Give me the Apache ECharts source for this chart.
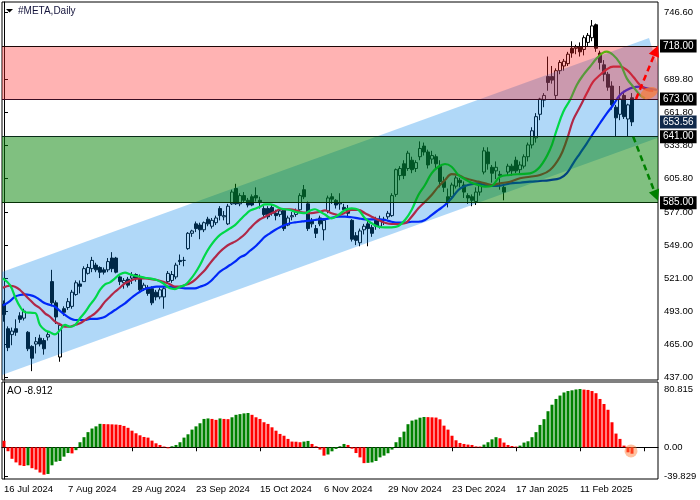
<!DOCTYPE html>
<html>
<head>
<meta charset="utf-8">
<script src="https://cdn.jsdelivr.net/npm/echarts/dist/echarts.min.js"></script>
<style>html,body{margin:0;padding:0;background:#fff;}#c{width:700px;height:500px;}</style>
</head>
<body>
<div id="c"></div>
<script>
// ---------- data ----------
const chartTitle = '#META,Daily';
const aoTitle = 'AO -8.912';

const tradingDays = [
  ['Jul 2024', [16,17,18,19,22,23,24,25,26,29,30,31]],
  ['Aug 2024', [1,2,5,6,7,8,9,12,13,14,15,16,19,20,21,22,23,26,27,28,29,30]],
  ['Sep 2024', [3,4,5,6,9,10,11,12,13,16,17,18,19,20,23,24,25,26,27,30]],
  ['Oct 2024', [1,2,3,4,7,8,9,10,11,14,15,16,17,18,21,22,23,24,25,28,29,30,31]],
  ['Nov 2024', [1,4,5,6,7,8,11,12,13,14,15,18,19,20,21,22,25,26,27,29]],
  ['Dec 2024', [2,3,4,5,6,9,10,11,12,13,16,17,18,19,20,23,24,26,27,30,31]],
  ['Jan 2025', [2,3,6,7,8,10,13,14,15,16,17,21,22,23,24,27,28,29,30,31]],
  ['Feb 2025', [3,4,5,6,7,10,11,12,13,14,18,19,20,21,24,25,26,27,28]],
  ['Mar 2025', [3]]
];
const futureSlots = ['', '', '', '', '', ''];

// [open, close, low, high]
const candles = [
[499,490,484,502],[478,462,459,480],[473,476,464,479],[478,475,472,486],[489,486,483,492],
[487,493,485,495],[475,461,459,476],[463,453,442,464],[465,467,457,471],[470,465,463,473],
[468,461,456,470],[471,473,468,476],[518,500,497,528],[500,488,482,502],[454,481,450,483],
[495,492,489,497],[496,501,494,504],[497,509,495,511],[507,517,506,519],[516,514,508,519],
[518,529,518,531],[525,530,524,533],[529,536,526,539],[532,528,526,534],[530,526,521,531],
[528,526,524,530],[528,535,526,538],[538,529,526,543],[538,526,525,539],[522,518,515,524],
[517,519,512,521],[520,515,513,522],[521,523,516,526],[524,521,518,525],[521,511,509,524],
[512,515,510,517],[513,508,506,515],[512,500,498,514],[509,505,502,511],[505,511,503,513],
[505,512,495,514],[518,525,516,527],[519,524,517,527],[522,532,520,534],[536,535,532,541],
[536,536,531,539],[546,559,545,560],[559,561,556,562],[567,563,560,569],[566,562,554,568],
[562,568,560,569],[571,567,565,573],[565,570,563,572],[568,572,566,574],[580,574,570,582],
[573,574,570,578],[567,582,566,584],[584,594,583,596],[597,584,583,601],[584,591,582,593],
[591,587,585,594],[587,583,581,589],[590,583,582,592],[591,589,586,598],[587,585,580,590],
[580,575,573,582],[580,573,571,582],[581,576,574,583],[576,574,570,579],[575,578,573,580],
[579,563,561,580],[566,572,565,574],[573,574,570,577],[575,578,573,580],[579,591,578,593],
[596,590,588,600],[584,563,561,586],[570,567,564,572],[563,559,555,566],[572,567,565,574],
[562,570,553,572],[578,589,576,591],[590,588,584,593],[587,583,580,588],[584,585,579,593],
[581,579,577,584],[580,576,573,583],[570,554,552,571],[557,553,549,560],[551,561,548,563],
[562,565,558,567],[567,563,548,570],[564,559,556,566],[570,565,562,573],[565,571,563,574],
[571,570,566,573],[573,576,571,578],[574,591,573,593],[592,613,590,614],[608,614,604,616],
[618,608,605,621],[614,627,612,629],[621,613,610,624],[614,619,611,621],[624,631,621,637],
[633,628,625,636],[628,617,614,630],[622,625,618,629],[624,618,614,626],[616,603,598,621],
[603,598,594,607],[590,585,581,597],[590,600,588,602],[599,606,597,608],[604,602,598,606],
[600,594,589,603],[591,589,584,593],[590,587,582,592],[586,594,583,598],[594,600,591,603],
[611,629,609,632],[628,618,613,632],[615,610,602,617],[612,615,605,620],[608,609,596,612],
[598,594,587,601],[611,616,608,618],[616,612,608,618],[621,612,610,624],[613,617,610,620],
[616,624,614,626],[624,634,620,636],[634,646,631,649],[640,658,636,661],[660,673,655,674],
[672,676,666,678],[692,687,680,709],[692,689,686,701],[676,697,673,699],[697,704,694,706],
[701,705,697,707],[703,711,701,713],[716,712,708,722],[716,717,711,719],[717,713,709,721],
[715,725,710,727],[721,727,718,729],[725,735,722,740],[736,716,713,737],[712,704,698,714],
[702,694,688,706],[694,683,680,696],[684,668,664,688],[666,657,641,668],[660,673,655,684],
[676,658,656,680],[656,668,641,669],[674,653.56,650,678]
];

const aoValues = [
9,-5.5,-16,-21,-25,-26,-25,-29,-31,-35,
-38,-37,-25,-20,-19,-13,-8,-8.5,-4,7,
14,21,26,29,32.5,32.2,32,31.8,31.5,31,
29.6,27,23,19.4,16.6,14.3,13.4,9.2,5.5,3.2,
1,-1.4,1.4,3.2,7,13.4,18,24.5,29,33.3,
39.3,40,39.3,38,40,39.3,39,41.6,45,46,
47,47.5,45,41.6,39.3,34.7,32.4,27.7,23,18.5,
16,11.6,7.9,7.7,7,7.9,8.8,4.6,1.4,-3.2,
-11.6,-10,-5.6,-2.3,1.4,4.6,3.2,-2,-8,-14,
-22,-21.6,-21,-19,-14,-11.6,-8.3,-3.2,7,14,
21.7,32,37,38.4,41,42,41.8,41.5,41.2,38.8,
30,24.5,16,9.7,6,4.6,3.7,3.2,1.2,1.0,
3.7,7,11,14,12.5,6.5,3.2,1.8,1.0,2.3,
6.5,8.3,14,21,31,39,50,59,67,71.7,
76,78,79,80.2,80.815,80,79.5,78,75,67,
60,52,34.7,19,11.6,2.3,-7,-8.912
];

// Alligator lines: [bar position, price]
const lipsLine = [[-0.3,520.8],[1.5,515.1],[2.75,505.2],[4,496.7],[5.25,492.0],[6.5,491.6],[7.75,491.4],[9,481.2],[10.25,476.9],[11.5,475.0],[12.75,473.3],[14,476.9],[15.25,481.2],[16.5,479.7],[17.75,481.2],[19,486.9],[20.25,492.0],[21.5,498.2],[22.75,503.8],[24,510.9],[25.25,515.7],[26.5,517.4],[27.75,520.8],[29,524.2],[30.25,525.6],[31.5,524.2],[32.75,523.0],[34,522.2],[35.25,521.3],[36.5,520.8],[38.2,519.4],[39.8,516.6],[41.5,512.3],[42.75,511.7],[44,513.7],[45.25,515.1],[46.5,519.4],[47.75,525.1],[49,532.1],[50.25,540.6],[51.5,547.6],[52.75,553.3],[54,557.6],[55.25,560.4],[56.5,563.2],[57.75,566.0],[59,570.3],[60.25,574.5],[61.5,578.2],[62.75,579.9],[64,581.6],[65.25,583.6],[66.5,583.6],[67.75,582.4],[69,580.2],[70.25,579.4],[71.5,578.8],[72.75,577.3],[74,576.5],[75.25,576.0],[76.5,578.2],[77.75,579.4],[79,577.3],[80.25,574.9],[81.9,571.7],[83.6,574.5],[85.25,578.8],[86.9,580.2],[88.6,578.8],[90.25,571.7],[91.9,567.5],[93.6,564.6],[95.25,564.1],[96.9,564.1],[98.6,565.2],[100.25,570.3],[101.9,578.8],[103.6,591.5],[105.25,600.0],[106.9,609.9],[108.6,615.5],[110.25,617.8],[111.9,615.5],[113.6,608.5],[115.25,604.8],[116.9,601.9],[118.6,600.0],[120.25,598.6],[121.9,599.1],[124,607.0],[126.5,608.5],[129,609.3],[131.5,609.9],[134,615.5],[136.5,630.0],[138.2,647.0],[139.8,662.0],[141.5,672.1],[143.2,684.9],[144.8,693.3],[146.5,700.4],[148.2,707.5],[149.8,712.3],[150.7,713.1],[152.3,710.3],[154,703.3],[155.7,690.5],[157.3,683.4],[159,676.4],[160.25,673.6]];

const teethLine = [[-0.3,512.8],[1.5,514.5],[2.75,513.7],[4,510.9],[5.25,506.6],[6.5,502.4],[7.75,498.2],[9,495.4],[10.25,491.1],[11.5,488.2],[12.75,484.0],[14,481.8],[15.25,479.7],[16.5,479.7],[17.75,481.2],[19,482.6],[20.25,485.4],[21.5,488.2],[22.75,491.1],[24,495.4],[25.25,501.0],[26.5,505.2],[27.75,509.4],[29,512.8],[30.25,516.6],[31.5,518.5],[32.75,520.2],[34,520.8],[35.25,520.8],[36.5,520.2],[38.2,519.4],[39.8,517.9],[41.5,515.7],[42.75,513.7],[44,513.7],[45.25,515.1],[46.5,516.6],[47.75,519.4],[49,523.6],[50.25,527.9],[51.5,533.5],[52.75,538.6],[54,543.4],[55.25,547.1],[56.5,549.9],[57.75,551.9],[59,554.8],[60.25,558.4],[61.5,563.2],[62.75,567.5],[64,570.9],[65.25,573.1],[66.5,575.4],[67.75,577.3],[69,579.4],[70.25,579.4],[71.5,579.4],[72.75,578.8],[74,577.3],[75.25,576.5],[76.5,576.0],[77.75,576.5],[79,577.3],[80.25,578.5],[81.9,576.0],[83.6,574.5],[85.25,576.5],[86.9,578.8],[88.6,578.8],[90.25,576.0],[91.9,573.1],[93.6,570.3],[95.25,568.0],[96.9,566.9],[98.6,566.9],[100.25,567.5],[101.9,573.1],[103.6,580.2],[105.25,585.8],[106.9,591.5],[108.6,598.6],[110.25,604.2],[111.9,609.3],[113.6,608.5],[115.25,605.7],[116.9,604.2],[118.6,602.8],[120.25,601.4],[121.9,600.0],[124,601.4],[126.5,602.8],[129,605.7],[131.5,607.0],[134,608.5],[136.5,612.7],[139,624.0],[140.7,638.2],[142.3,655.2],[144,666.4],[145.7,677.8],[147.3,687.7],[149,693.3],[150.7,698.2],[152.3,700.4],[154,700.4],[155.7,697.6],[157.3,691.9],[159,684.9],[160.7,680.6],[162.3,679.8]];

const jawLine = [[-0.3,497.6],[1.5,501.5],[2.75,505.2],[4,506.6],[5.25,507.2],[6.5,506.6],[7.75,505.2],[9,502.4],[10.25,499.6],[11.5,498.2],[12.75,496.7],[14,493.1],[15.25,489.7],[16.5,486.9],[17.75,485.4],[19,485.4],[20.25,485.4],[21.5,486.3],[22.75,486.3],[24,486.9],[25.25,488.2],[26.5,491.1],[27.75,493.9],[29,496.7],[30.25,499.6],[31.5,503.2],[32.75,506.6],[34,509.4],[35.25,511.7],[36.5,512.8],[38.2,513.7],[39.8,513.7],[41.5,513.7],[42.75,513.2],[44,512.8],[45.25,512.3],[46.5,512.3],[47.75,512.3],[49,513.7],[50.25,515.1],[51.5,517.9],[52.75,522.2],[54,526.4],[55.25,529.3],[56.5,532.1],[57.75,534.9],[59,538.6],[60.25,540.6],[61.5,544.2],[62.75,547.6],[64,551.9],[65.25,556.1],[66.5,559.0],[67.75,561.8],[69,564.1],[70.25,566.0],[71.5,567.5],[72.75,568.3],[74,568.8],[75.25,569.4],[76.5,569.7],[77.75,570.3],[79,570.9],[80.25,571.1],[81.9,572.2],[83.6,573.1],[85.25,573.1],[86.9,572.6],[88.6,571.7],[90.25,570.9],[91.9,570.9],[93.6,570.9],[95.25,570.3],[96.9,568.8],[98.6,568.0],[100.25,568.0],[101.9,568.8],[103.6,568.8],[105.25,570.3],[106.9,574.5],[108.6,578.8],[110.25,583.0],[111.9,588.7],[113.6,595.8],[115.25,599.1],[116.9,600.8],[118.6,601.4],[120.25,600.0],[121.9,599.2],[124,599.5],[126.5,601.4],[129,601.9],[131.5,602.8],[134,603.4],[136.5,604.2],[139,605.7],[140.7,609.9],[142.3,618.4],[144,626.9],[145.7,635.4],[147.3,643.9],[149,652.4],[150.7,660.8],[152.3,667.9],[154,676.4],[155.7,680.6],[157.3,682.9],[159,683.4],[160.7,682.1],[163.2,680.6]];

// channel outline [bar position, price]
const channelOutline = [[-0.5,526.2],[161.25,724.7],[163.5,700.3],[163.5,640.1],[-0.5,438.7]];
const resistanceZone = [673, 718];
const supportZone = [585, 641];
const lastPrice = 653.56;
const upArrow = [[158, 673], [163, 714]];
const downArrow = [[157.3, 641], [163, 591]];
const targetMarker = [161.25, 678];
const aoMarker = [156.75, -5.1];

const priceTicks = [437, 465, 493, 521, 549, 577, 605.8, 633.8, 661.8, 689.8, 746.6];
const aoTicks = [-39.829, 0, 80.815];

// ---------- chart ----------
const X_MIN = -0.5, X_MAX = 163.5;
const categories = tradingDays.flatMap(([m, days]) => days.map(d => d + ' ' + m)).concat(futureSlots);
const FONT = 'Liberation Sans';

const aoBars = aoValues.map((v, i) => ({
  value: v,
  itemStyle: { color: (i > 0 && v > aoValues[i - 1]) ? '#008000' : '#ff0000' }
}));

const chart = echarts.init(document.getElementById('c'), null, { renderer: 'canvas', width: 700, height: 500 });

const boxLabel = (bg) => ({
  show: true, position: 'end', distance: 2,
  formatter: p => Number(p.value).toFixed(2),
  color: '#fff', backgroundColor: bg, padding: [2, 3, 1, 3],
  fontSize: 10, fontFamily: FONT
});

chart.setOption({
  animation: false,
  backgroundColor: '#fff',
  grid: [
    { left: 2, top: 2, width: 656, height: 378, show: true, borderColor: '#000', borderWidth: 1, backgroundColor: 'transparent' },
    { left: 2, top: 382, width: 656, height: 97, show: true, borderColor: '#000', borderWidth: 1, backgroundColor: 'transparent' }
  ],
  xAxis: [
    { type: 'category', gridIndex: 0, data: categories, boundaryGap: true,
      axisLine: { show: false }, axisTick: { show: false }, axisLabel: { show: false }, splitLine: { show: false } },
    { type: 'value', gridIndex: 0, min: X_MIN, max: X_MAX, show: false },
    { type: 'category', gridIndex: 1, data: categories, boundaryGap: true,
      axisLine: { show: true, lineStyle: { color: '#000', width: 1 } },
      axisTick: { show: true, interval: 15, alignWithLabel: true, length: 4, lineStyle: { color: '#000' } },
      axisLabel: { interval: 15, align: 'left', margin: 5, color: '#000', fontSize: 9.5, fontFamily: FONT },
      splitLine: { show: false } },
    { type: 'value', gridIndex: 1, min: X_MIN, max: X_MAX, show: false }
  ],
  yAxis: [
    { type: 'value', gridIndex: 0, position: 'right', min: 434.5, max: 755.3,
      splitLine: { show: false },
      axisLine: { show: true, lineStyle: { color: '#000' } },
      axisTick: { show: true, length: 4, customValues: priceTicks, lineStyle: { color: '#000' } },
      axisLabel: { customValues: priceTicks, formatter: v => Number(v).toFixed(2), margin: 6, color: '#000', fontSize: 9.5, fontFamily: FONT } },
    { type: 'value', gridIndex: 1, position: 'right', min: -44, max: 90.52,
      splitLine: { show: false },
      axisLine: { show: true, lineStyle: { color: '#000' } },
      axisTick: { show: true, length: 4, customValues: aoTicks, lineStyle: { color: '#000' } },
      axisLabel: { customValues: aoTicks, formatter: v => (v === 0 ? '0.00' : Number(v).toFixed(3)), margin: 6, color: '#000', fontSize: 9.5, fontFamily: FONT } }
  ],
  series: [
    { type: 'candlestick', xAxisIndex: 0, yAxisIndex: 0, data: candles, barWidth: 3, z: 2, silent: true,
      itemStyle: { color: '#fff', color0: '#000', borderColor: '#000', borderColor0: '#000', borderWidth: 1 } },
    { type: 'line', name: 'jaw', xAxisIndex: 1, yAxisIndex: 0, data: jawLine, smooth: 0.4, showSymbol: false, z: 3, silent: true,
      lineStyle: { color: '#0000ff', width: 2.2 } },
    { type: 'line', name: 'teeth', xAxisIndex: 1, yAxisIndex: 0, data: teethLine, smooth: 0.4, showSymbol: false, z: 3, silent: true,
      lineStyle: { color: '#ff0000', width: 2.2 } },
    { type: 'line', name: 'lips', xAxisIndex: 1, yAxisIndex: 0, data: lipsLine, smooth: 0.4, showSymbol: false, z: 3, silent: true,
      lineStyle: { color: '#00ff00', width: 2.2 } },
    { type: 'custom', xAxisIndex: 1, yAxisIndex: 0, z: 4, silent: true, data: [[0, 0]],
      renderItem: (params, api) => {
        const pts = channelOutline.map(p => api.coord(p));
        const band = (lo, hi) => {
          const a = api.coord([X_MIN, hi]), b = api.coord([X_MAX, lo]);
          return { x: a[0], y: a[1], width: b[0] - a[0], height: b[1] - a[1] };
        };
        return { type: 'group', children: [
          { type: 'polygon', shape: { points: pts }, style: { fill: 'rgba(0,129,232,0.31)' } },
          { type: 'rect', shape: band(resistanceZone[0], resistanceZone[1]), style: { fill: 'rgba(255,38,38,0.35)' } },
          { type: 'rect', shape: band(supportZone[0], supportZone[1]), style: { fill: 'rgba(1,129,1,0.5)' } }
        ] };
      } },
    { type: 'line', xAxisIndex: 1, yAxisIndex: 0, data: [], z: 5, silent: true,
      markLine: { silent: true, symbol: 'none', animation: false,
        data: [
          { yAxis: resistanceZone[1], lineStyle: { color: '#1c0606', width: 1, type: 'solid' }, label: boxLabel('#000') },
          { yAxis: resistanceZone[0], lineStyle: { color: '#3a0c22', width: 1, type: 'solid' }, label: boxLabel('#000') },
          { yAxis: lastPrice, lineStyle: { color: 'rgba(0,0,0,0)', width: 1 }, label: boxLabel('#10294a') },
          { yAxis: supportZone[1], lineStyle: { color: '#082a18', width: 1, type: 'solid' }, label: boxLabel('#000') },
          { yAxis: supportZone[0], lineStyle: { color: '#053005', width: 1, type: 'solid' }, label: boxLabel('#000') }
        ] } },
    { type: 'line', xAxisIndex: 1, yAxisIndex: 0, data: [], z: 6, silent: true,
      markLine: { silent: true, symbol: ['none', 'triangle'], symbolSize: 11, animation: false, label: { show: false },
        data: [
          [{ coord: upArrow[0], lineStyle: { color: '#ff0000', width: 2.5, type: [6, 4] }, itemStyle: { color: '#ff0000' } },
           { coord: upArrow[1] }],
          [{ coord: downArrow[0], lineStyle: { color: '#008000', width: 2.5, type: [6, 4] }, itemStyle: { color: '#008000' } },
           { coord: downArrow[1] }]
        ] } },
    { type: 'custom', xAxisIndex: 1, yAxisIndex: 0, z: 7, silent: true, data: [targetMarker],
      renderItem: (params, api) => {
        const c = api.coord([api.value(0), api.value(1)]);
        return { type: 'ellipse', x: c[0], y: c[1], rotation: 0.4,
          shape: { cx: 0, cy: 0, rx: 9, ry: 5.5 }, style: { fill: 'rgba(245,125,60,0.75)' } };
      } },
    { type: 'bar', xAxisIndex: 2, yAxisIndex: 1, data: aoBars, barWidth: 3, silent: true, z: 2 },
    { type: 'scatter', xAxisIndex: 3, yAxisIndex: 1, data: [aoMarker], symbolSize: 13, silent: true, z: 3,
      itemStyle: { color: 'rgba(255,125,55,0.6)' } }
  ],
  graphic: [
    { type: 'polygon', z: 100, shape: { points: [[6, 9], [13, 9], [9.5, 12.5]] }, style: { fill: '#000' } },
    { type: 'text', z: 100, x: 18, y: 11, style: { text: chartTitle, font: '10px "Liberation Sans"', fill: '#14143c', verticalAlign: 'middle' } },
    { type: 'rect', z: 99, shape: { x: 5, y: 385, width: 48, height: 12 }, style: { fill: '#fff' } },
    { type: 'text', z: 100, x: 7, y: 391, style: { text: aoTitle, font: '10px "Liberation Sans"', fill: '#000', verticalAlign: 'middle' } }
  ]
});
</script>
</body>
</html>
